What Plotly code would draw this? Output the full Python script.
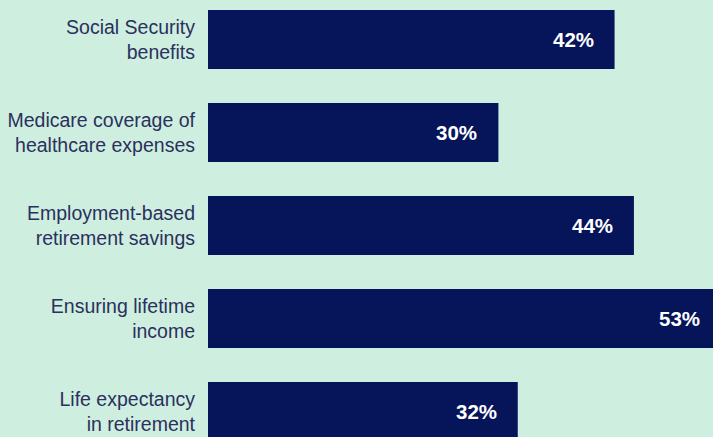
import plotly.graph_objects as go

categories = [
    "Social Security<br>benefits",
    "Medicare coverage of<br>healthcare expenses",
    "Employment-based<br>retirement savings",
    "Ensuring lifetime<br>income",
    "Life expectancy<br>in retirement",
]
values = [42, 30, 44, 53, 32]
labels = [f"{v}%" for v in values]

BG = "#ceeedf"
BAR = "#06145a"
TXT = "#2b305e"

PX_PER_UNIT = 9.68
FIG_W = 725
LEFT = 208

fig = go.Figure(
    go.Bar(
        x=values,
        y=list(range(len(categories))),
        orientation="h",
        marker=dict(color=BAR, line=dict(width=0)),
        width=59 / 93,
        hoverinfo="skip",
    )
)

for i, (v, t) in enumerate(zip(values, labels)):
    fig.add_annotation(
        x=v, y=i, text=t, xref="x", yref="y",
        xanchor="right", yanchor="middle", xshift=-19, showarrow=False,
        font=dict(family="Liberation Sans, Arial, sans-serif", size=20.5, color="white", weight="bold"),
    )

fig.update_layout(
    width=FIG_W, height=437,
    margin=dict(l=LEFT, r=0, t=0, b=0, autoexpand=False),
    paper_bgcolor=BG, plot_bgcolor=BG,
    showlegend=False,
    hovermode=False,
    xaxis=dict(range=[0, (FIG_W - LEFT) / PX_PER_UNIT], visible=False, fixedrange=True),
    yaxis=dict(
        range=[(437 - 39.5) / 93, -39.5 / 93],
        tickvals=list(range(len(categories))),
        ticktext=categories,
        showgrid=False, zeroline=False, showline=False, ticks="",
        ticklabelstandoff=12,
        fixedrange=True,
        tickfont=dict(family="Liberation Sans, Arial, sans-serif", size=19.5, color=TXT),
        automargin=False,
    ),
)

fig.write_html(
    "out.html",
    config={"displayModeBar": False, "staticPlot": True},
    post_script="document.body.style.margin='0';document.body.style.overflow='hidden';document.body.style.background='%s';" % BG,
)
